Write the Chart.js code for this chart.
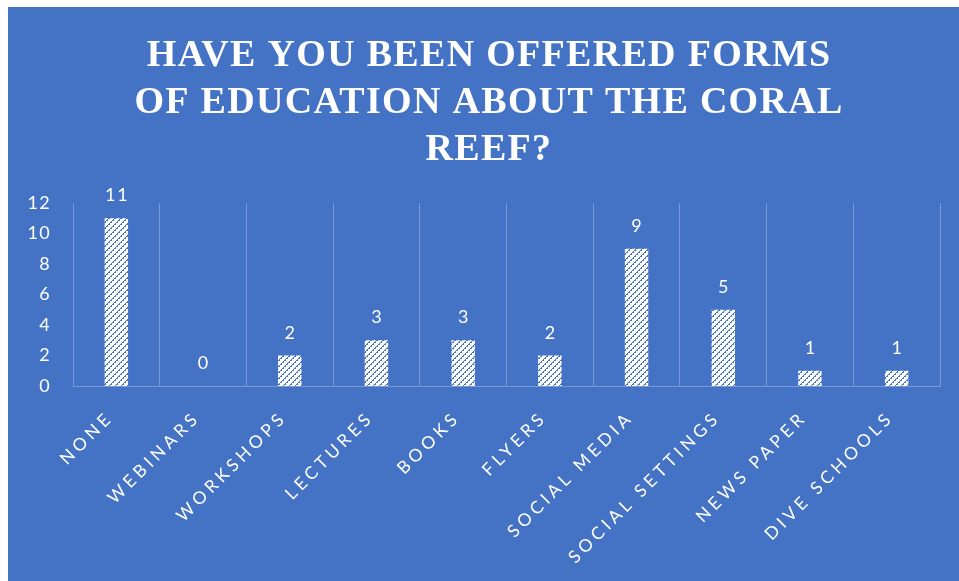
<!DOCTYPE html>
<html>
<head>
<meta charset="utf-8">
<script src="https://cdn.jsdelivr.net/npm/chart.js@4.4.1/dist/chart.umd.min.js"></script>
<style>
  html, body { margin: 0; padding: 0; background: #ffffff; overflow: hidden; }
  #wrap { position: absolute; left: 8px; top: 7px; width: 951px; height: 574px; background: #4472C4; overflow: hidden; }
  canvas { display: block; }
</style>
</head>
<body>
<div id="wrap"><canvas id="chart" width="962" height="574"></canvas></div>
<script>
// Survey answers: forms of coral-reef education offered
const categories = ['NONE', 'WEBINARS', 'WORKSHOPS', 'LECTURES', 'BOOKS', 'FLYERS',
                    'SOCIAL MEDIA', 'SOCIAL SETTINGS', 'NEWS PAPER', 'DIVE SCHOOLS'];
const responses = [11, 0, 2, 3, 3, 2, 9, 5, 1, 1];
const yTicks = [0, 2, 4, 6, 8, 10, 12];
const titleLines = ['HAVE YOU BEEN OFFERED FORMS', 'OF EDUCATION ABOUT THE CORAL', 'REEF?'];

const BLUE = '#4472C4';
const GRID = 'rgba(255,255,255,0.28)';

// White fill with blue upward diagonal hatching
function hatchPattern() {
  const size = 6;
  const pc = document.createElement('canvas');
  pc.width = size; pc.height = size;
  const p = pc.getContext('2d');
  p.fillStyle = '#ffffff';
  p.fillRect(0, 0, size, size);
  p.fillStyle = BLUE;
  for (let i = 0; i < size; i++) {
    p.fillRect(i, size - 1 - i, 1, 1);
    if (i % 2 === 0) p.fillRect((i + 1) % size, size - 1 - i, 1, 1);
  }
  return p.createPattern(pc, 'repeat');
}

// Text tracking: light for the title and values, wider for category names
const tracking = {
  id: 'tracking',
  beforeDraw(chart) { chart.ctx.letterSpacing = '1.3px'; },
  afterDraw(chart) { chart.ctx.letterSpacing = '0px'; },
  afterLayout(chart) {
    const s = chart.scales.x;
    if (s && !s._wideTracking) {
      const drawLabels = s.drawLabels;
      s.drawLabels = function (area) {
        this.ctx.save();
        this.ctx.letterSpacing = '4px';
        drawLabels.call(this, area);
        this.ctx.restore();
      };
      s._wideTracking = true;
    }
  }
};

// Value printed above each bar
const valueLabels = {
  id: 'valueLabels',
  afterDatasetsDraw(chart) {
    const ctx = chart.ctx;
    const meta = chart.getDatasetMeta(0);
    ctx.save();
    ctx.letterSpacing = '2px';
    ctx.font = '18px Lato';
    ctx.fillStyle = '#ffffff';
    ctx.textAlign = 'center';
    ctx.textBaseline = 'alphabetic';
    meta.data.forEach((bar, i) => {
      ctx.fillText(String(responses[i]), bar.x + 1, bar.y - 17);
    });
    ctx.restore();
  }
};

new Chart(document.getElementById('chart'), {
  type: 'bar',
  data: {
    labels: categories,
    datasets: [{
      data: responses,
      backgroundColor: hatchPattern(),
      borderWidth: 0,
      categoryPercentage: 1,
      barPercentage: 0.27
    }]
  },
  options: {
    responsive: false,
    animation: false,
    layout: { padding: { left: 0, right: 0, top: 0, bottom: 0 } },
    plugins: {
      legend: { display: false },
      tooltip: { enabled: false },
      title: {
        display: true,
        text: titleLines,
        color: '#ffffff',
        font: { family: 'Liberation Serif', weight: 'bold', size: 38, lineHeight: 1.237 },
        padding: { top: 26, bottom: 29 }
      }
    },
    scales: {
      x: {
        grid: { display: true, color: GRID, lineWidth: 1, drawTicks: false, offset: true },
        border: { display: true, color: GRID, width: 1 },
        ticks: {
          color: '#ffffff',
          font: { family: 'Lato', size: 17.5 },
          minRotation: 45,
          maxRotation: 45,
          padding: 21,
          labelOffset: -6,
          autoSkip: false
        },
        afterFit(scale) { scale.height = 195; }
      },
      y: {
        min: 0,
        max: 12,
        grid: { display: false, drawTicks: false },
        border: { display: false },
        ticks: { color: '#ffffff', font: { family: 'Lato', size: 18 }, padding: 22 },
        afterBuildTicks(scale) { scale.ticks = yTicks.map(v => ({ value: v })); },
        afterFit(scale) { scale.width = 65; }
      },
      // empty gutter on the right of the plot
      gutter: {
        position: 'right',
        display: true,
        grid: { display: false, drawTicks: false },
        border: { display: false },
        ticks: { display: false },
        afterFit(scale) { scale.width = 30; }
      }
    }
  },
  plugins: [tracking, valueLabels]
});
</script>
</body>
</html>
